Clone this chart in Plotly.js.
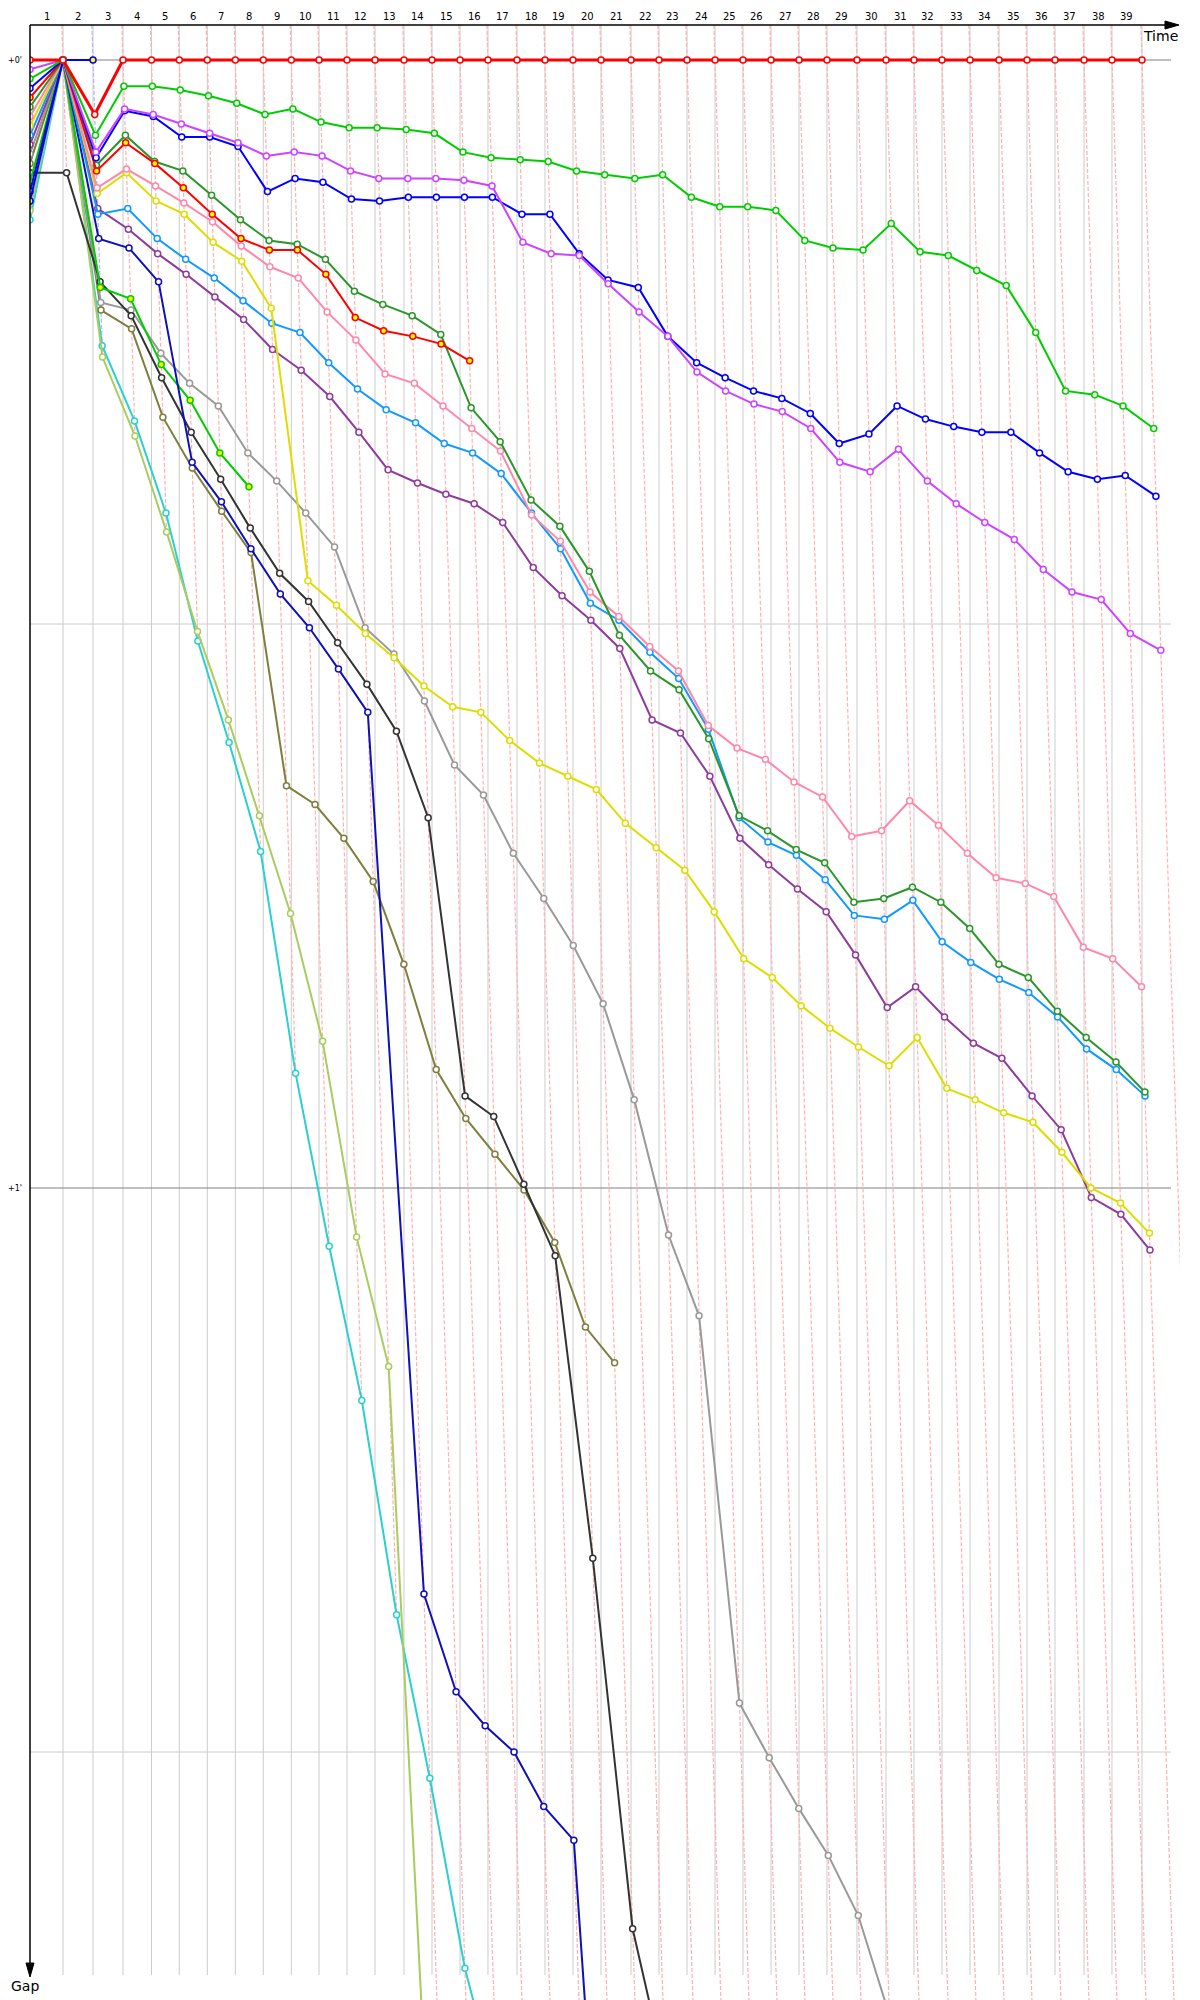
<!DOCTYPE html>
<html><head><meta charset="utf-8">
<script src="https://cdn.plot.ly/plotly-3.0.1.min.js"></script>
<style>html,body{margin:0;padding:0;background:#fff}</style>
</head><body><div id="chart" style="width:1200px;height:2000px"></div>
<script>
// ---------- data ----------
const lapLabels = ['1','2','3','4','5','6','7','8','9','10','11','12','13','14','15','16','17','18','19','20',
  '21','22','23','24','25','26','27','28','29','30','31','32','33','34','35','36','37','38','39'];
// leader lap times (s)
const leaderLapTimes = [55.0,50.0,50.0,47.5,46.3,46.7,46.7,46.6,46.7,46.2,46.6,46.7,48.3,46.7,46.7,46.6,48.4,46.6,46.7,46.7,
  50.0,46.6,46.7,46.7,46.6,46.7,46.7,46.6,50.0,48.4,46.6,46.7,46.7,48.3,46.7,46.6,48.4,46.6,50.0];
// leader of each lap (1..39)
const lapLeader = ['red1','blue0','red1','red1','red1','red1','red1','red1','red1','red1','red1','red1','red1','red1','red1',
  'red1','red1','red1','red1','red1','red1','red1','red1','red1','red1','red1','red1','red1','red1','red1','red1','red1','red1',
  'red1','red1','red1','red1','red1','red1'];
// gap to leader (s) per lap, lap 0 = start
const gapRed1 = [0,0,2.9,0,0,0,0,0,0,0,0,0,0,0,0,0,0,0,0,0,0,0,0,0,0,0,0,0,0,0,0,0,0,0,0,0,0,0,0,0];
const gapGreen1 = [1.0,0,4.0,1.4,1.4,1.6,1.9,2.3,2.9,2.6,3.3,3.6,3.6,3.7,3.9,4.9,5.2,5.3,5.4,5.9,6.1,6.3,6.1,7.3,7.8,7.8,8.0,9.6,10.0,10.1,8.7,10.2,10.4,11.2,12.0,14.5,17.6,17.8,18.4,19.6];
const gapMagenta = [0.5,0,4.9,2.6,2.9,3.4,3.9,4.4,5.1,4.9,5.1,5.9,6.3,6.3,6.3,6.4,6.7,9.7,10.3,10.4,11.9,13.4,14.7,16.6,17.6,18.3,18.7,19.6,21.4,21.9,20.7,22.4,23.6,24.6,25.5,27.1,28.3,28.7,30.5,31.4];
const gapBlue1 = [1.5,0,5.2,2.7,3.0,4.1,4.1,4.6,7.0,6.3,6.5,7.4,7.5,7.3,7.3,7.3,7.3,8.2,8.2,10.3,11.7,12.1,14.7,16.1,16.9,17.6,18.0,18.8,20.4,19.9,18.4,19.1,19.5,19.8,19.8,20.9,21.9,22.3,22.1,23.2];
const gapRed2 = [2.0,0,5.9,4.4,5.5,6.8,8.2,9.5,10.1,10.1,11.4,13.7,14.4,14.7,15.1,16.0];
const gapDkGreen = [2.5,0,5.6,4.0,5.4,5.9,7.2,8.5,9.6,9.8,10.6,12.3,13.0,13.6,14.6,18.5,20.3,23.4,24.8,27.2,30.6,32.5,33.5,36.1,40.2,41.0,42.0,42.7,44.8,44.6,44.0,44.8,46.2,48.1,48.8,50.6,52.0,53.3,54.9];
const gapPink = [3.0,0,6.8,5.8,6.7,7.6,8.6,9.9,11.0,11.6,13.4,14.9,16.7,17.2,18.4,19.6,20.8,24.2,25.6,28.3,29.6,31.2,32.5,35.4,36.6,37.2,38.4,39.2,41.3,41.0,39.4,40.7,42.2,43.5,43.8,44.5,47.2,47.8,49.3];
const gapYellow = [3.5,0,7.1,6.0,7.5,8.2,9.7,10.7,13.2,27.7,29.0,30.5,31.8,33.3,34.4,34.7,36.2,37.4,38.1,38.8,40.6,41.9,43.1,45.3,47.8,48.8,50.3,51.5,52.5,53.5,52.0,54.7,55.3,56.0,56.5,58.1,60.0,60.8,62.4];
const gapLtBlue = [4.0,0,8.2,7.9,9.5,10.6,11.6,12.8,14.0,14.5,16.1,17.5,18.6,19.3,20.4,20.9,22.0,24.1,26.0,28.9,29.8,31.5,32.9,35.6,40.3,41.6,42.3,43.6,45.5,45.7,44.7,46.9,48.0,48.9,49.6,50.9,52.6,53.7,55.1];
const gapPurple = [4.5,0,7.9,9.0,10.3,11.4,12.6,13.8,15.4,16.5,17.9,19.8,21.8,22.5,23.1,23.6,24.6,27.0,28.5,29.8,31.3,35.1,35.8,38.1,41.4,42.8,44.1,45.3,47.6,50.4,49.3,50.9,52.3,53.1,55.1,56.9,60.5,61.4,63.3];
const gapNavy = [7.0,0,9.5,10.0,11.8,21.4,23.5,26.0,28.4,30.2,32.4,34.7,81.6,86.8,88.6,90.0,92.9,94.7,135];
const gapGreen2 = [6.5,0,12.1,12.7,16.2,18.1,20.9,22.7];
const gapBlack = [6.0,6.0,11.8,13.6,16.9,19.8,22.3,24.9,27.3,28.8,31.0,33.2,35.7,40.3,55.1,56.2,59.8,63.6,79.7,99.4,107];
const gapGray = [5.0,0,12.9,13.3,15.6,17.2,18.4,20.9,22.4,24.1,25.9,30.2,31.6,34.1,37.5,39.1,42.2,44.6,47.1,50.2,55.3,62.5,66.8,87.4,90.3,93.0,95.5,98.7,104];
const gapOlive = [5.5,0,13.3,14.3,19.0,21.7,24.0,26.2,38.6,39.6,41.4,43.7,48.1,53.7,56.3,58.2,60.1,62.9,67.4,69.3];
const gapLime = [8.0,0,15.8,20.0,25.1,30.4,35.1,40.2,45.4,52.2,62.6,69.5,146];
const gapCyan = [8.5,0,15.2,19.2,24.1,30.9,36.3,42.1,53.9,63.1,71.3,82.7,91.4,101.5,108];
const gapBlue0 = [7.5,0,0];

// ---------- styling / geometry ----------
const W=1200, H=2000, ML=30, MT=25, MR=20;
const PXX=0.6, PXY=18.8;          // px per second (x / y)
const plotW=W-ML-MR, plotH=H-MT;
const xMax=plotW/PXX;
const yTop=-(60-MT)/PXY;
const yBot=yTop+plotH/PXY;
const yGridEnd=yTop+(1975-MT)/PXY;
const xHEnd=(1171-ML)/PXX;
const px2pX=px=>(px-ML)/plotW;
const px2pY=py=>(H-py)/plotH;

const cum=[0]; leaderLapTimes.forEach((t,i)=>cum.push(cum[i]+t));

const drivers=[
  {g:gapCyan, c:'#2ccfcf'},
  {g:gapLime, c:'#a8cc5e'},
  {g:gapOlive, c:'#7e7e3e'},
  {g:gapGray, c:'#999999'},
  {g:gapBlack, c:'#333333'},
  {g:gapGreen2, c:'#00cc00', fill:'#ffff00'},
  {g:gapNavy, c:'#1010b8'},
  {g:gapPurple, c:'#8e3c9c'},
  {g:gapLtBlue, c:'#1199ff'},
  {g:gapYellow, c:'#dddd00'},
  {g:gapPink, c:'#ff88aa'},
  {g:gapDkGreen, c:'#2a962a'},
  {g:gapRed2, c:'#ff0000', fill:'#ffff00'},
  {g:gapBlue0, c:'#0000ff', fill:'#ffff00'},
  {g:gapBlue1, c:'#0000ff'},
  {g:gapMagenta, c:'#cc44ff'},
  {g:gapGreen1, c:'#00cc00'},
  {g:gapRed1, c:'#ff0000', w:3}
];
const lapLineColor={red1:'#ffb0b0', blue0:'#b4b4ff'};

// first lap at which some car falls beyond the bottom of the chart (it stays there afterwards)
let offChartLap=Infinity;
drivers.forEach(d=>d.g.forEach((v,i)=>{ if(v>yBot && i<offChartLap) offChartLap=i; }));

const traces=[];
// lap lines: through each car's crossing of that lap (time = leader time + gap)
for(let L=1;L<=lapLabels.length;L++){
  let gMax=0;
  drivers.forEach(d=>{ if(d.g.length>L) gMax=Math.max(gMax,d.g[L]); });
  const gEnd = L>=offChartLap ? yBot : Math.min(gMax,yBot);
  traces.push({type:'scatter',mode:'lines',hoverinfo:'skip',showlegend:false,
    x:[cum[L]+yTop,cum[L]+gEnd], y:[yTop,gEnd],
    line:{color:lapLineColor[lapLeader[L-1]],width:1.2,dash:'4px,2px'}});
}
drivers.forEach(d=>{
  traces.push({type:'scatter',mode:'lines+markers',showlegend:false,
    x:d.g.map((v,i)=>i===0?0:cum[i]+v), y:d.g,
    line:{color:d.c,width:d.w||2},
    marker:{symbol:'circle',size:6,color:d.fill||'#ffffff',line:{color:d.c,width:1.5}}});
});

const shapes=[];
for(let L=1;L<=lapLabels.length;L++){
  shapes.push({type:'line',layer:'below',xref:'x',yref:'y',x0:cum[L],x1:cum[L],y0:yTop,y1:yGridEnd,
    line:{color:'#cccccc',width:1}});
}
[[30,'#cccccc'],[90,'#cccccc'],[0,'#808080'],[60,'#808080']].forEach(([v,c])=>{
  shapes.push({type:'line',layer:'below',xref:'x',yref:'y',x0:0,x1:xHEnd,y0:v,y1:v,line:{color:c,width:1}});
});
// axes with arrows
shapes.push({type:'line',xref:'paper',yref:'paper',x0:0,x1:px2pX(1170),y0:1,y1:1,line:{color:'#000',width:1.5}});
shapes.push({type:'line',xref:'paper',yref:'paper',x0:0,x1:0,y0:1,y1:px2pY(1966),line:{color:'#000',width:1.5}});
shapes.push({type:'path',xref:'paper',yref:'paper',fillcolor:'#000',line:{color:'#000',width:1},
  path:`M${px2pX(1165)},${px2pY(21)} L${px2pX(1179)},${px2pY(25)} L${px2pX(1165)},${px2pY(29)} Z`});
shapes.push({type:'path',xref:'paper',yref:'paper',fillcolor:'#000',line:{color:'#000',width:1},
  path:`M${px2pX(26)},${px2pY(1963)} L${px2pX(30)},${px2pY(1977)} L${px2pX(34)},${px2pY(1963)} Z`});

const fnt='DejaVu Sans, Verdana, sans-serif';
const annotations=[];
lapLabels.forEach((t,i)=>{
  annotations.push({xref:'x',yref:'paper',x:(cum[i]+cum[i+1])/2,y:px2pY(17),text:t,showarrow:false,
    xanchor:'center',yanchor:'middle',font:{family:fnt,size:10,color:'#000'}});
});
annotations.push({xref:'paper',yref:'y',x:px2pX(15),y:0,text:"+0'",showarrow:false,xanchor:'center',yanchor:'middle',font:{family:fnt,size:8,color:'#000'}});
annotations.push({xref:'paper',yref:'y',x:px2pX(15),y:60,text:"+1'",showarrow:false,xanchor:'center',yanchor:'middle',font:{family:fnt,size:8,color:'#000'}});
annotations.push({xref:'paper',yref:'paper',x:px2pX(1160),y:px2pY(36),text:'Time',showarrow:false,xanchor:'center',yanchor:'middle',font:{family:fnt,size:14,color:'#000'}});
annotations.push({xref:'paper',yref:'paper',x:px2pX(25),y:px2pY(1986),text:'Gap',showarrow:false,xanchor:'center',yanchor:'middle',font:{family:fnt,size:14,color:'#000'}});

const layout={
  width:W,height:H,margin:{l:ML,r:MR,t:MT,b:0,pad:0},
  paper_bgcolor:'#fff',plot_bgcolor:'#fff',showlegend:false,hovermode:false,
  xaxis:{range:[0,xMax],showgrid:false,zeroline:false,showticklabels:false,showline:false,ticks:'',fixedrange:true},
  yaxis:{range:[yBot,yTop],autorange:false,showgrid:false,zeroline:false,showticklabels:false,showline:false,ticks:'',fixedrange:true},
  shapes:shapes,annotations:annotations
};
Plotly.newPlot('chart',traces,layout,{staticPlot:true,displayModeBar:false});
</script></body></html>
